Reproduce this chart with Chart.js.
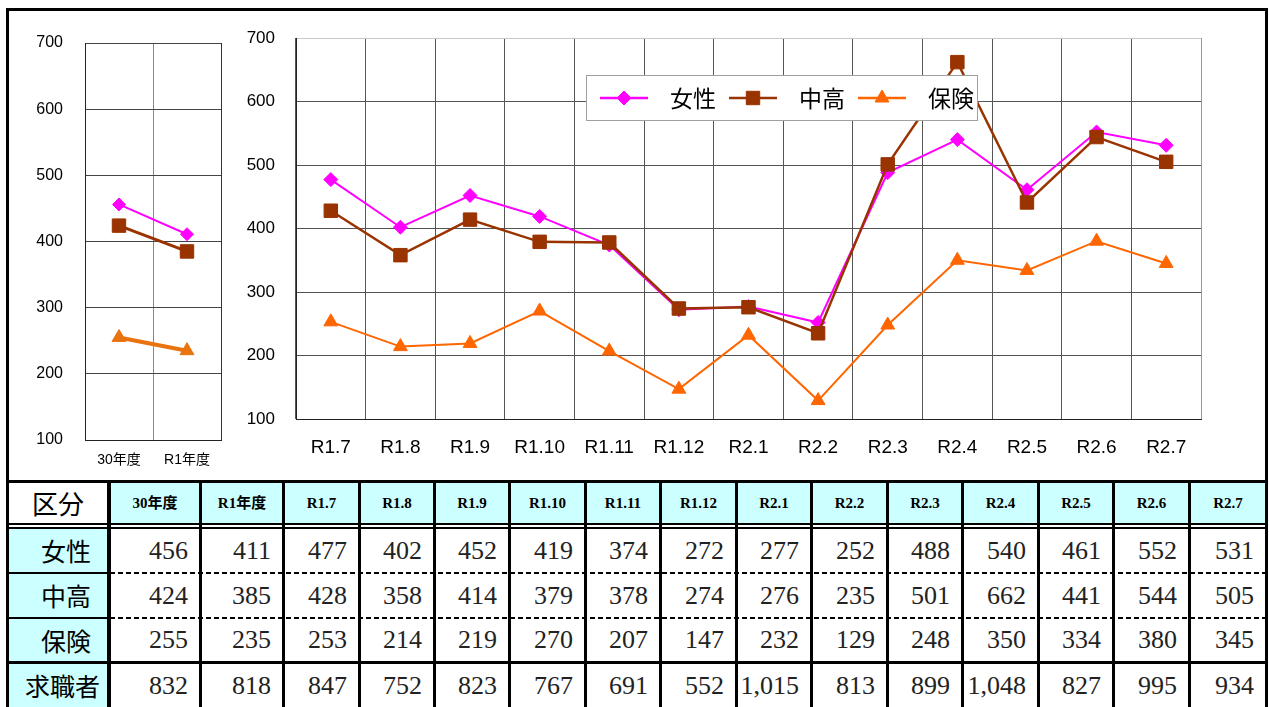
<!DOCTYPE html>
<html><head><meta charset="utf-8">
<script src="https://cdn.jsdelivr.net/npm/chart.js@4.4.0/dist/chart.umd.min.js"></script>
<style>
html,body{margin:0;padding:0;background:#fff;width:1269px;height:707px;overflow:hidden;position:relative;}
#frame{position:absolute;left:6px;top:8px;width:1256px;height:720px;border:3px solid #000;}
canvas{position:absolute;}
#c1{left:9px;top:11px;}
#c2{left:239px;top:11px;}
.cell{position:absolute;display:flex;align-items:center;box-sizing:border-box;line-height:1;white-space:nowrap;}
.line{position:absolute;background:#000;}
.dash{position:absolute;height:2px;background:repeating-linear-gradient(90deg,#000 0 5px,transparent 5px 8px);}
.num{font-family:"Liberation Serif","Times New Roman",serif;font-size:26px;color:#222;justify-content:flex-end;padding-right:11px;background:#fff;}
.rowlab{font-family:"Noto Sans CJK JP",sans-serif;font-size:25px;color:#000;justify-content:flex-end;padding-right:16px;background:#ccffff;}
.head{font-family:"Liberation Serif","Noto Sans CJK JP",serif;font-weight:bold;font-size:15px;color:#000;justify-content:center;background:#ccffff;}
.corner{font-family:"Noto Sans CJK JP",sans-serif;font-size:26px;color:#000;justify-content:center;background:#fff;}
</style></head><body>
<div id="frame"></div>
<canvas id="c1" width="230" height="469"></canvas>
<canvas id="c2" width="1000" height="469"></canvas>
<div id="tbl"></div>
<script>
// ---------- data ----------
const fyLabels = ['30年度', 'R1年度'];
const monthLabels = ['R1.7','R1.8','R1.9','R1.10','R1.11','R1.12','R2.1','R2.2','R2.3','R2.4','R2.5','R2.6','R2.7'];
const seriesNames = ['女性', '中高', '保険'];
const womenFY = [456, 411];
const midAgeFY = [424, 385];
const insuranceFY = [255, 235];
const womenMonthly = [477, 402, 452, 419, 374, 272, 277, 252, 488, 540, 461, 552, 531];
const midAgeMonthly = [428, 358, 414, 379, 378, 274, 276, 235, 501, 662, 441, 544, 505];
const insuranceMonthly = [253, 214, 219, 270, 207, 147, 232, 129, 248, 350, 334, 380, 345];
const jobSeekersFY = [832, 818];
const jobSeekersMonthly = [847, 752, 823, 767, 691, 552, 1015, 813, 899, 1048, 827, 995, 934];
const yTicks = [100, 200, 300, 400, 500, 600, 700];
const cornerLabel = '区分';
const jobSeekerLabel = '求職者';

// ---------- charts ----------
Chart.defaults.font.family = '"Liberation Sans", Arial, "Noto Sans CJK JP", sans-serif';
Chart.defaults.color = '#000';

function ds(label, data, color, style, radius, width, order) {
  return {label, data, borderColor: color, backgroundColor: color,
    pointBackgroundColor: color, pointBorderColor: color, pointStyle: style,
    pointRadius: radius, pointBorderWidth: 1, borderWidth: width, tension: 0, fill: false, order};
}

function scales(o) {
  return {
    x: {type: 'category', offset: true,
      afterFit: s => { s.height = o.xHeight; s.paddingLeft = 0; s.paddingRight = 0; },
      ticks: {font: {size: o.xFont}, padding: o.xPad, maxRotation: 0, autoSkip: false, color: '#000'},
      grid: {offset: true, drawTicks: false, lineWidth: 1, color: o.xGrid},
      border: {display: true, color: '#222', width: 1}},
    y: {type: 'linear', min: 100, max: 700,
      afterBuildTicks: s => { s.ticks = yTicks.map(v => ({value: v})); },
      afterFit: s => { s.width = o.yWidth; s.paddingTop = 0; s.paddingBottom = 0; },
      ticks: {font: {size: o.yFont}, padding: o.yPad, color: '#000'},
      grid: {drawTicks: false, lineWidth: 1, color: o.yGrid},
      border: {display: true, color: '#222', width: 1}}
  };
}

const boxLegend = {
  id: 'boxLegend',
  afterDatasetsDraw(chart, args, o) {
    if (!o || !o.show) return;
    const ctx = chart.ctx;
    ctx.save();
    ctx.fillStyle = '#fff';
    ctx.fillRect(o.x, o.y, o.w, o.h);
    ctx.strokeStyle = '#a0a0a0';
    ctx.lineWidth = 1;
    ctx.strokeRect(o.x + 0.5, o.y + 0.5, o.w - 1, o.h - 1);
    const cy = o.y + o.h / 2;
    chart.data.datasets.forEach((d, i) => {
      const sx = o.x + o.first + i * o.step;
      ctx.strokeStyle = d.borderColor;
      ctx.lineWidth = 2.5;
      ctx.beginPath(); ctx.moveTo(sx, cy); ctx.lineTo(sx + o.sample, cy); ctx.stroke();
      ctx.fillStyle = d.pointBackgroundColor;
      ctx.strokeStyle = d.pointBorderColor;
      ctx.lineWidth = 1;
      Chart.helpers.drawPoint(ctx, {pointStyle: d.pointStyle, radius: d.pointRadius, borderWidth: 1, rotation: 0}, sx + o.sample / 2, cy);
      ctx.fillStyle = '#000';
      ctx.font = o.font;
      ctx.textBaseline = 'middle';
      ctx.textAlign = 'left';
      ctx.fillText(d.label, sx + o.textGap, cy);
    });
    ctx.restore();
  }
};

new Chart(document.getElementById('c1'), {
  type: 'line',
  data: {labels: fyLabels, datasets: [
    ds(seriesNames[0], womenFY, '#FF00FF', 'rectRot', 6.5, 2, 1),
    ds(seriesNames[1], midAgeFY, '#993300', 'rect', 9.5, 3, 0),
    ds(seriesNames[2], insuranceFY, '#E8730F', 'triangle', 8, 4, 2)
  ]},
  options: {
    responsive: false, animation: false, events: [],
    layout: {padding: {left: 0, top: 32, right: 18, bottom: 0}},
    plugins: {legend: {display: false}, tooltip: {enabled: false}, boxLegend: {show: false}},
    scales: scales({xHeight: 40, xFont: 14, xPad: 12, yWidth: 76, yFont: 16, yPad: 22,
      xGrid: c => (c.type === 'tick' && c.index > 0) ? '#888' : '#333',
      yGrid: '#444'})
  },
  plugins: [boxLegend]
});

new Chart(document.getElementById('c2'), {
  type: 'line',
  data: {labels: monthLabels, datasets: [
    ds(seriesNames[0], womenMonthly, '#FF00FF', 'rectRot', 7, 2, 1),
    ds(seriesNames[1], midAgeMonthly, '#993300', 'rect', 9.5, 2.5, 0),
    ds(seriesNames[2], insuranceMonthly, '#FF6600', 'triangle', 8, 2, 2)
  ]},
  options: {
    responsive: false, animation: false, events: [],
    layout: {padding: {left: 0, top: 27, right: 38, bottom: 0}},
    plugins: {legend: {display: false}, tooltip: {enabled: false},
      boxLegend: {show: true, x: 347, y: 64, w: 392, h: 46, first: 14, step: 129, sample: 48, textGap: 70,
        font: '23px "Noto Sans CJK JP", sans-serif'}},
    scales: scales({xHeight: 61, xFont: 19, xPad: 17, yWidth: 57, yFont: 17, yPad: 21,
      xGrid: c => c.type === 'tick' ? '#555' : '#999',
      yGrid: c => (c.tick && c.tick.value === 700) ? '#c8c8c8' : '#555'})
  },
  plugins: [boxLegend]
});

// ---------- table ----------
const tbl = document.getElementById('tbl');
function el(cls, x, y, w, h, text) {
  const d = document.createElement('div');
  d.className = cls;
  d.style.left = x + 'px'; d.style.top = y + 'px';
  d.style.width = w + 'px'; d.style.height = h + 'px';
  if (text !== undefined) d.textContent = text;
  tbl.appendChild(d);
  return d;
}
const vLines = [107, 199, 282, 358, 433, 508, 584, 659, 735, 810, 886, 961, 1037, 1112, 1188];
const vW = [4, 3, 3, 3, 3, 3, 3, 3, 3, 3, 3, 3, 3, 3, 3];
const colEdges = [9].concat(vLines.map((x, i) => x + vW[i]));
const colEnds = vLines.concat([1265]);
const rowsY = [[483, 523], [529, 572], [574, 617], [619, 661], [664, 707]];

const allLabels = fyLabels.concat(monthLabels);
const tableRows = [
  [seriesNames[0], womenFY.concat(womenMonthly)],
  [seriesNames[1], midAgeFY.concat(midAgeMonthly)],
  [seriesNames[2], insuranceFY.concat(insuranceMonthly)],
  [jobSeekerLabel, jobSeekersFY.concat(jobSeekersMonthly)]
];

// header row
el('cell corner', colEdges[0], rowsY[0][0], colEnds[0] - colEdges[0], rowsY[0][1] - rowsY[0][0], cornerLabel);
allLabels.forEach((lab, i) => {
  el('cell head', colEdges[i + 1], rowsY[0][0], colEnds[i + 1] - colEdges[i + 1], rowsY[0][1] - rowsY[0][0], lab);
});
// data rows
tableRows.forEach((row, r) => {
  const [y0, y1] = rowsY[r + 1];
  const lab = el('cell rowlab', colEdges[0], y0, colEnds[0] - colEdges[0], y1 - y0, row[0]);
  if (row[0].length > 2) lab.style.paddingRight = '7px';
  row[1].forEach((v, i) => {
    el('cell num', colEdges[i + 1], y0, colEnds[i + 1] - colEdges[i + 1], y1 - y0, v.toLocaleString('en-US'));
  });
});
// horizontal lines
el('line', 6, 480, 1262, 3);
el('line', 6, 523, 1262, 2);
el('line', 6, 527, 1262, 2);
[572, 617].forEach(y => {
  el('line', 6, y, colEdges[1] - 6, 2);
  el('dash', colEdges[1] - 1, y, 1265 - colEdges[1] + 1, 2);
});
el('line', 6, 661, 1262, 3);
// vertical lines
vLines.forEach((x, i) => el('line', x, 480, vW[i], 240));
</script>
</body></html>
